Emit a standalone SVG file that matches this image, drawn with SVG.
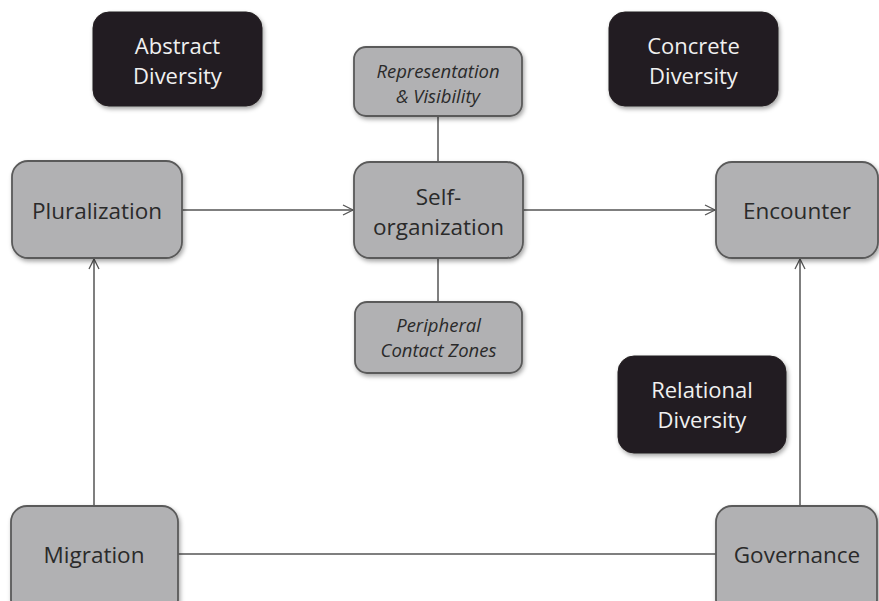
<svg xmlns="http://www.w3.org/2000/svg" width="879" height="601" viewBox="0 0 879 601">
<defs>
<filter id="sh" x="-10%" y="-10%" width="125%" height="130%">
<feDropShadow dx="1.5" dy="2.5" stdDeviation="2" flood-color="#000" flood-opacity="0.35"/>
</filter>
<marker id="arr" markerWidth="14" markerHeight="14" refX="11" refY="6" orient="auto" markerUnits="userSpaceOnUse">
<path d="M1,1 L11,6 L1,11" fill="none" stroke="#555" stroke-width="1.3"/>
</marker>
</defs>
<style>
.g{fill:#b1b1b3;stroke:#5a5a5a;stroke-width:1.8;filter:url(#sh)}
.b{fill:#231f20;stroke:#231f20;stroke-width:1;filter:url(#sh)}
.t{font-family:"Open Sans","DejaVu Sans",sans-serif;font-size:22.5px;fill:#2a2a2a;text-anchor:middle}
.w{font-family:"Open Sans","DejaVu Sans",sans-serif;font-size:22px;fill:#f0f0f0;text-anchor:middle}
.i{font-family:"Open Sans","DejaVu Sans",sans-serif;font-size:18.5px;font-style:italic;fill:#2a2a2a;text-anchor:middle}
.c{stroke:#555;stroke-width:1.5;fill:none}
</style>
<rect width="879" height="601" fill="#fff"/>
<g id="connectors">
<line class="c" x1="182" y1="210" x2="353" y2="210" marker-end="url(#arr)"/>
<line class="c" x1="523" y1="210" x2="715" y2="210" marker-end="url(#arr)"/>
<line class="c" x1="438" y1="116" x2="438" y2="162"/>
<line class="c" x1="438" y1="258" x2="438" y2="302"/>
<line class="c" x1="94" y1="506" x2="94" y2="259" marker-end="url(#arr)"/>
<line class="c" x1="800" y1="506" x2="800" y2="259" marker-end="url(#arr)"/>
<line class="c" x1="178" y1="554" x2="716" y2="554"/>
</g>
<g id="abstract">
<rect class="b" x="93" y="12" width="169" height="94" rx="16"/>
<text class="w" x="177.5" y="54">Abstract</text>
<text class="w" x="177.5" y="84">Diversity</text>
</g>
<g id="concrete">
<rect class="b" x="609" y="12" width="169" height="94" rx="16"/>
<text class="w" x="693.5" y="54">Concrete</text>
<text class="w" x="693.5" y="84">Diversity</text>
</g>
<g id="relational">
<rect class="b" x="618" y="356" width="168" height="97" rx="16"/>
<text class="w" x="702" y="398">Relational</text>
<text class="w" x="702" y="428">Diversity</text>
</g>
<g id="representation">
<rect class="g" x="354" y="47" width="168" height="69" rx="12"/>
<text class="i" x="438" y="78">Representation</text>
<text class="i" x="438" y="103">&amp; Visibility</text>
</g>
<g id="pluralization">
<rect class="g" x="12" y="161" width="170" height="97" rx="16"/>
<text class="t" x="97" y="219">Pluralization</text>
</g>
<g id="selforg">
<rect class="g" x="354" y="162" width="169" height="96" rx="16"/>
<text class="t" x="438.5" y="205">Self-</text>
<text class="t" x="438.5" y="235">organization</text>
</g>
<g id="encounter">
<rect class="g" x="716" y="162" width="162" height="96" rx="16"/>
<text class="t" x="797" y="219">Encounter</text>
</g>
<g id="peripheral">
<rect class="g" x="355" y="302" width="167" height="71" rx="12"/>
<text class="i" x="438.5" y="332">Peripheral</text>
<text class="i" x="438.5" y="357">Contact Zones</text>
</g>
<g id="migration">
<rect class="g" x="11" y="506" width="167" height="110" rx="16"/>
<text class="t" x="94" y="563">Migration</text>
</g>
<g id="governance">
<rect class="g" x="716" y="506" width="161" height="110" rx="16"/>
<text class="t" x="797" y="563">Governance</text>
</g>
</svg>
